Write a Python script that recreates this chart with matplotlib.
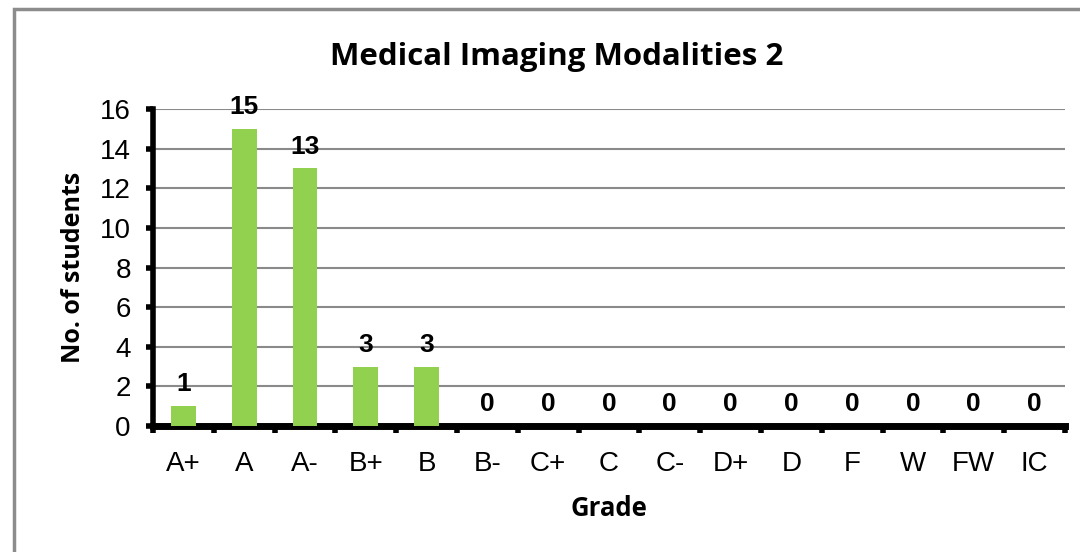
import matplotlib.pyplot as plt
import numpy as np
from matplotlib.patches import Rectangle

grades = ['A+', 'A', 'A-', 'B+', 'B', 'B-', 'C+', 'C', 'C-', 'D+', 'D', 'F', 'W', 'FW', 'IC']
students = [1, 15, 13, 3, 3, 0, 0, 0, 0, 0, 0, 0, 0, 0, 0]
yticks = [0, 2, 4, 6, 8, 10, 12, 14, 16]

plt.rcParams['font.family'] = ['Liberation Sans', 'DejaVu Sans']

fig = plt.figure(figsize=(10.8, 5.52), dpi=100)
ax = fig.add_axes([153/1080, 1-426/552, (1065-153)/1080, (426-109)/552])

# outer chart border (runs off the right and bottom edges)
fig.patches.append(Rectangle((14/1080, -0.1), 1.2, 1.1-9/552, transform=fig.transFigure,
                             fill=False, edgecolor='#8c8c8c', linewidth=2.5, zorder=0))

x = np.arange(len(grades))
ax.bar(x, students, width=0.41, color='#92D050', zorder=3)

for xi, v in zip(x, students):
    ax.annotate(str(v), (xi, v), xytext=(0, 7), textcoords='offset points',
                ha='center', va='bottom', fontsize=19, fontweight='bold')

ax.set_xlim(-0.5, len(grades) - 0.5)
ax.set_ylim(0, 16)
ax.set_yticks(yticks)
ax.yaxis.grid(True, color='#8a8a8a', linewidth=1.5, zorder=0)
ax.set_axisbelow(True)

ax.set_xticks(x)
ax.set_xticklabels(grades, fontsize=20)
ax.set_xticks(np.arange(-0.5, len(grades)), minor=True)
ax.tick_params(axis='x', which='major', length=0, pad=18)
ax.tick_params(axis='x', which='minor', length=5, width=4, direction='out')
ax.tick_params(axis='y', length=5, width=4, direction='out', labelsize=20, pad=11)

for s in ['top', 'right']:
    ax.spines[s].set_visible(False)
ax.spines['left'].set_linewidth(4)
ax.spines['bottom'].set_linewidth(5)

ax.set_xlabel('Grade', fontsize=18.5, fontweight='bold', family=['Open Sans', 'DejaVu Sans'], labelpad=13)
ax.set_ylabel('No. of students', fontsize=18, fontweight='bold', family=['Open Sans', 'DejaVu Sans'], labelpad=10)
fig.text(557/1080, 1-57/552, 'Medical Imaging Modalities 2', ha='center', va='center',
         fontsize=22.5, fontweight='bold', family=['Open Sans', 'DejaVu Sans'])

fig.savefig('out.png', dpi=100)
